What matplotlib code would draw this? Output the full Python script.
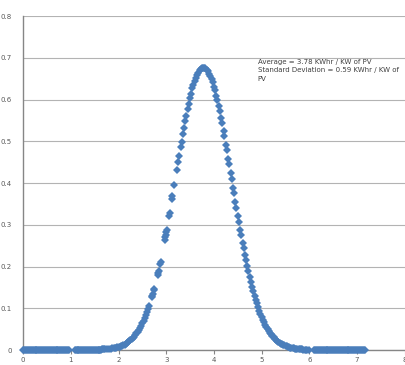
import matplotlib
matplotlib.use("Agg")
from matplotlib import pyplot as plt

# ---------------------------------------------------------------------------
# Points (KWhr / KW of PV vs. probability density)
# ---------------------------------------------------------------------------

# flat tail on the left (density ~ 0)
left_tail_x = [0.00, 0.02, 0.04, 0.06, 0.08, 0.10, 0.12, 0.14, 0.16, 0.18,
               0.20, 0.22, 0.24, 0.26, 0.28, 0.30, 0.32, 0.34, 0.36, 0.38,
               0.40, 0.42, 0.44, 0.46, 0.48, 0.50, 0.52, 0.54, 0.56, 0.58,
               0.60, 0.62, 0.64, 0.66, 0.68, 0.70, 0.72, 0.74, 0.76, 0.78,
               0.80, 0.82, 0.84, 0.86, 0.88, 0.90, 0.92, 0.94, 0.96,
               1.08, 1.10, 1.12, 1.14, 1.16, 1.18, 1.20, 1.22, 1.24, 1.26,
               1.28, 1.30, 1.32, 1.34, 1.36, 1.38, 1.40, 1.42, 1.44, 1.46,
               1.48, 1.50, 1.52, 1.54, 1.56, 1.58, 1.60, 1.62, 1.64, 1.66,
               1.68, 1.70, 1.72, 1.76, 1.80, 1.84, 1.87]
left_tail_y = [0.0, 0.0, 0.0, 0.0, 0.0, 0.0, 0.0, 0.0, 0.0, 0.0,
               0.0, 0.0, 0.0, 0.0, 0.0, 0.0, 0.0, 0.0, 0.0, 0.0,
               0.0, 0.0, 0.0, 0.0, 0.0, 0.0, 0.0, 0.0, 0.0, 0.0,
               0.0, 0.0, 0.0, 0.0, 0.0, 0.0, 0.0, 0.0, 0.0, 0.0,
               0.0, 0.0, 0.0, 0.0, 0.0, 0.0, 0.0, 0.0, 0.0,
               0.0, 0.0, 0.0, 0.0, 0.0, 0.0, 0.0, 0.0, 0.0, 0.0,
               0.0001, 0.0001, 0.0001, 0.0001, 0.0002, 0.0002, 0.0002, 0.0003, 0.0003, 0.0003,
               0.0004, 0.0004, 0.0005, 0.0006, 0.0007, 0.0008, 0.0009, 0.0010, 0.0012, 0.0013,
               0.0015, 0.0017, 0.0019, 0.0024, 0.0029, 0.0035, 0.0040]

# rising side: dense at the foot, clustered further up
rise_x = [1.900, 1.925, 1.950, 1.975, 2.000, 2.025, 2.050, 2.075, 2.100, 2.125,
          2.150, 2.175, 2.200, 2.225, 2.250, 2.275, 2.300, 2.325, 2.350, 2.375,
          2.400, 2.425, 2.450, 2.475, 2.500, 2.525, 2.550, 2.575, 2.600,
          2.62, 2.64, 2.70, 2.71, 2.72, 2.74, 2.75, 2.82, 2.83, 2.84,
          2.87, 2.88, 2.97, 2.98, 2.99, 3.00, 3.01, 3.06, 3.07, 3.12,
          3.13, 3.17, 3.22, 3.25, 3.27, 3.30, 3.32, 3.35, 3.37, 3.40,
          3.42, 3.45, 3.47, 3.50, 3.52, 3.55, 3.57, 3.60, 3.62, 3.65,
          3.67, 3.70, 3.72, 3.75, 3.77]
rise_y = [0.0042, 0.0048, 0.0055, 0.0063, 0.0071, 0.0081, 0.0092, 0.0104, 0.0117, 0.0132,
          0.0149, 0.0167, 0.0187, 0.0209, 0.0234, 0.0261, 0.0291, 0.0323, 0.0358, 0.0397,
          0.0439, 0.0484, 0.0533, 0.0586, 0.0643, 0.0704, 0.0769, 0.0838, 0.0915,
          0.0978, 0.1045, 0.1266, 0.1305, 0.1346, 0.1430, 0.1473, 0.1799, 0.1849, 0.1900,
          0.2058, 0.2112, 0.2634, 0.2696, 0.2758, 0.2821, 0.2884, 0.3210, 0.3277, 0.3616,
          0.3685, 0.3962, 0.4309, 0.4516, 0.4653, 0.4856, 0.4988, 0.5184, 0.5310, 0.5494,
          0.5612, 0.5781, 0.5889, 0.6040, 0.6135, 0.6265, 0.6345, 0.6453, 0.6516, 0.6598,
          0.6644, 0.6698, 0.6725, 0.6751, 0.6760]

# falling side: dense all the way down
fall_x = [3.80, 3.82, 3.85, 3.87, 3.90, 3.92, 3.95, 3.97, 4.00, 4.02,
          4.05, 4.07, 4.10, 4.12, 4.15, 4.17, 4.20, 4.22, 4.25, 4.27,
          4.30, 4.32, 4.35, 4.37, 4.40, 4.42, 4.45, 4.47, 4.50, 4.52,
          4.55, 4.57, 4.60, 4.62, 4.65, 4.67, 4.70, 4.72,
          4.750, 4.775, 4.800, 4.825, 4.850, 4.875, 4.900, 4.925, 4.950, 4.975,
          5.000, 5.025, 5.050, 5.075, 5.100, 5.125, 5.150, 5.175, 5.200, 5.225,
          5.250, 5.275, 5.300, 5.325, 5.350, 5.375, 5.400, 5.425, 5.450, 5.475,
          5.500, 5.525, 5.550, 5.575, 5.600, 5.625, 5.650, 5.675, 5.700, 5.725,
          5.750, 5.775, 5.800, 5.825, 5.850, 5.875, 5.900]
fall_y = [0.6756, 0.6744, 0.6713, 0.6682, 0.6622, 0.6572, 0.6485, 0.6419, 0.6306, 0.6223,
          0.6088, 0.5991, 0.5835, 0.5726, 0.5553, 0.5433, 0.5247, 0.5119, 0.4922, 0.4788,
          0.4584, 0.4447, 0.4239, 0.4100, 0.3892, 0.3754, 0.3548, 0.3412, 0.3210, 0.3078,
          0.2884, 0.2758, 0.2573, 0.2454, 0.2280, 0.2167, 0.2004, 0.1900,
          0.1750, 0.1632, 0.1517, 0.1409, 0.1305, 0.1208, 0.1115, 0.1029, 0.0946, 0.0870,
          0.0797, 0.0731, 0.0667, 0.0609, 0.0554, 0.0504, 0.0456, 0.0414, 0.0373, 0.0337,
          0.0303, 0.0273, 0.0245, 0.0220, 0.0196, 0.0176, 0.0156, 0.0139, 0.0123, 0.0109,
          0.0096, 0.0085, 0.0075, 0.0066, 0.0058, 0.0051, 0.0045, 0.0039, 0.0034, 0.0030,
          0.0026, 0.0022, 0.0019, 0.0016, 0.0014, 0.0012, 0.0011]

# flat tail on the right
right_tail_x = [5.93, 5.96, 6.00, 6.10, 6.12, 6.14, 6.16, 6.18, 6.20, 6.22,
                6.24, 6.26, 6.28, 6.30, 6.32, 6.34, 6.36, 6.38, 6.40, 6.42,
                6.44, 6.46, 6.48, 6.50, 6.52, 6.54, 6.56, 6.58, 6.60, 6.62,
                6.64, 6.66, 6.68, 6.70, 6.72, 6.74, 6.76, 6.78, 6.80, 6.82,
                6.84, 6.86, 6.88, 6.90, 6.92, 6.94, 6.96, 6.98, 7.00, 7.02,
                7.04, 7.06, 7.08, 7.10, 7.12, 7.14, 7.16]
right_tail_y = [0.0009, 0.0007, 0.0006, 0.0003, 0.0003, 0.0003, 0.0002, 0.0002, 0.0002, 0.0002,
                0.0001, 0.0001, 0.0001, 0.0001, 0.0001, 0.0, 0.0, 0.0, 0.0, 0.0,
                0.0, 0.0, 0.0, 0.0, 0.0, 0.0, 0.0, 0.0, 0.0, 0.0,
                0.0, 0.0, 0.0, 0.0, 0.0, 0.0, 0.0, 0.0, 0.0, 0.0,
                0.0, 0.0, 0.0, 0.0, 0.0, 0.0, 0.0, 0.0, 0.0, 0.0,
                0.0, 0.0, 0.0, 0.0, 0.0, 0.0, 0.0]

x_ticks = [0, 1, 2, 3, 4, 5, 6, 7, 8]
y_ticks = [0, 0.1, 0.2, 0.3, 0.4, 0.5, 0.6, 0.7, 0.8]
y_tick_labels = ["0", "0.1", "0.2", "0.3", "0.4", "0.5", "0.6", "0.7", "0.8"]

note = "Average = 3.78 KWhr / KW of PV\nStandard Deviation = 0.59 KWhr / KW of\nPV"

# ---------------------------------------------------------------------------
fig = plt.figure(figsize=(4.06, 3.65), dpi=100)
ax = fig.add_axes([0.057, 0.041, 0.940, 0.915])

marker_color = "#4a7ebb"
for xs, ys in [(left_tail_x, left_tail_y), (rise_x, rise_y),
               (fall_x, fall_y), (right_tail_x, right_tail_y)]:
    ax.plot(xs, ys, linestyle="none", marker="D", markersize=4.0,
            color=marker_color, markeredgewidth=0, zorder=3, clip_on=False)

ax.set_xlim(0, 8)
ax.set_ylim(0, 0.8)
ax.set_xticks(x_ticks)
ax.set_yticks(y_ticks)
ax.set_yticklabels(y_tick_labels)
ax.tick_params(axis="x", labelsize=5, colors="#595959", length=3, width=0.8,
               color="#868686", pad=2)
ax.tick_params(axis="y", labelsize=5, colors="#595959", length=0, pad=8)

ax.grid(axis="y", color="#b3b3b3", linewidth=0.8)
ax.set_axisbelow(True)
for side in ["top", "right"]:
    ax.spines[side].set_visible(False)
ax.spines["left"].set_color("#868686")
ax.spines["bottom"].set_color("#868686")
ax.spines["left"].set_linewidth(1.0)
ax.spines["bottom"].set_linewidth(1.0)

ax.text(4.92, 0.698, note, fontsize=5.0, color="#404040", va="top", ha="left",
        linespacing=1.5)

fig.savefig("out.png", dpi=100)
